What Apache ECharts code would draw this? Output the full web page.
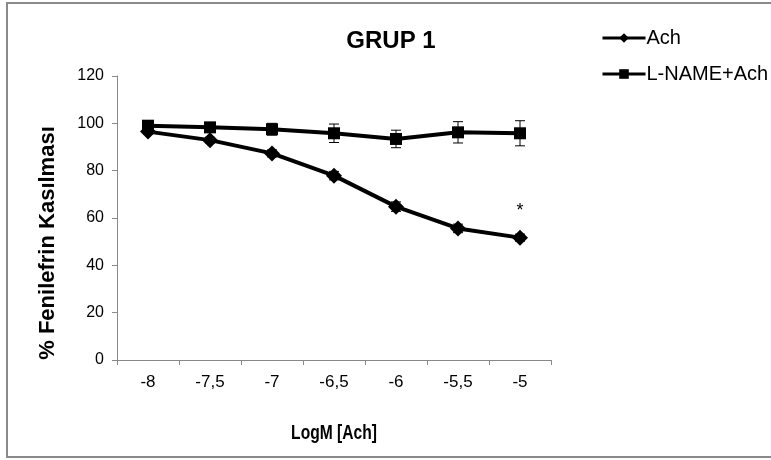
<!DOCTYPE html>
<html>
<head>
<meta charset="utf-8">
<script src="https://cdn.jsdelivr.net/npm/echarts@6/dist/echarts.min.js"></script>
<style>
  html, body { margin: 0; padding: 0; background: #fff; }
  #chart { width: 771px; height: 460px; }
</style>
</head>
<body>
<div id="chart"></div>
<script>
// Dose levels (log molar concentration of acetylcholine)
const doses = ['-8', '-7,5', '-7', '-6,5', '-6', '-5,5', '-5'];

// Ach alone: mean contraction (%) and SEM
const achMean = [96.5, 92.9, 87.3, 77.9, 64.8, 55.6, 51.7];
const achSem = [1.0, 1.2, 1.5, 1.8, 2.0, 1.8, 1.5];

// L-NAME + Ach: mean contraction (%) and SEM
const lnameMean = [99.0, 98.3, 97.5, 95.8, 93.4, 96.2, 95.8];
const lnameSem = [1.0, 1.2, 2.5, 3.9, 3.7, 4.5, 5.3];

// Significance marker placed above the last dose
const sigLevel = [null, null, null, null, null, null, 63];
const sigText = ['', '', '', '', '', '', '*'];

// Value axis range
const yMin = 0, yMax = 120, yStep = 20;

const FONT = '"Liberation Sans", Arial, sans-serif';
const AXIS_GRAY = '#898989';

function errorBars(name, mean, sem) {
  return {
    name: name + ' SEM',
    type: 'custom',
    silent: true,
    z: 3,
    data: mean.map((m, i) => [i, m - sem[i], m + sem[i]]),
    encode: { x: 0, y: [1, 2] },
    renderItem(params, api) {
      const x = api.value(0);
      const lo = api.coord([x, api.value(1)]);
      const hi = api.coord([x, api.value(2)]);
      const w = 5;
      const style = { stroke: '#000', lineWidth: 1 };
      return {
        type: 'group',
        children: [
          { type: 'line', shape: { x1: lo[0], y1: lo[1], x2: hi[0], y2: hi[1] }, style },
          { type: 'line', shape: { x1: lo[0] - w, y1: lo[1], x2: lo[0] + w, y2: lo[1] }, style },
          { type: 'line', shape: { x1: hi[0] - w, y1: hi[1], x2: hi[0] + w, y2: hi[1] }, style }
        ]
      };
    }
  };
}

// Text markers (significance asterisks) at given dose/level positions
const sigPoints = sigLevel
  .map((v, i) => (v == null ? null : [i, v]))
  .filter((p) => p !== null);

const chart = echarts.init(document.getElementById('chart'), null, { renderer: 'canvas' });

chart.setOption({
  animation: false,
  backgroundColor: '#fff',
  textStyle: { fontFamily: FONT },
  title: {
    text: 'GRUP 1',
    left: 386,
    top: 24,
    textAlign: 'center',
    textStyle: { fontFamily: FONT, fontSize: 24, fontWeight: 'bold', color: '#000' }
  },
  legend: {
    orient: 'vertical',
    left: 596,
    top: 23,
    itemWidth: 43,
    itemHeight: 12,
    itemGap: 16,
    data: ['Ach', 'L-NAME+Ach'],
    lineStyle: { width: 3 },
    textStyle: { fontFamily: FONT, fontSize: 20, color: '#000', padding: [0, 0, 0, -4] }
  },
  grid: { left: 117, right: 220, top: 76, bottom: 100, containLabel: false },
  xAxis: {
    type: 'category',
    data: doses,
    boundaryGap: true,
    axisLine: { lineStyle: { color: AXIS_GRAY, width: 1 } },
    axisTick: { show: true, length: 5, inside: false, lineStyle: { color: AXIS_GRAY } },
    axisLabel: { fontFamily: FONT, fontSize: 17, color: '#000', margin: 14 },
    splitLine: { show: false }
  },
  yAxis: {
    type: 'value',
    min: yMin,
    max: yMax,
    interval: yStep,
    axisLine: { show: true, lineStyle: { color: AXIS_GRAY, width: 1 } },
    axisTick: { show: true, length: 5, inside: false, lineStyle: { color: AXIS_GRAY } },
    axisLabel: { fontFamily: FONT, fontSize: 16, color: '#000', margin: 13 },
    splitLine: { show: false }
  },
  graphic: [
    {
      type: 'rect',
      shape: { x: 7, y: 3, width: 800, height: 454 },
      style: { fill: 'none', stroke: '#8a8a8a', lineWidth: 2 },
      silent: true,
      z: -1
    },
    {
      // value-axis title, rotated
      type: 'text',
      x: 48,
      y: 243,
      rotation: Math.PI / 2,
      style: {
        text: '% Fenilefrin Kasılması',
        font: 'bold 22px ' + FONT,
        fill: '#000',
        textAlign: 'center',
        textVerticalAlign: 'middle'
      },
      silent: true
    },
    {
      // category-axis title, set in a condensed face
      type: 'text',
      x: 334,
      y: 433,
      scaleX: 0.78,
      style: {
        text: 'LogM [Ach]',
        font: 'bold 20px ' + FONT,
        fill: '#000',
        textAlign: 'center',
        textVerticalAlign: 'middle'
      },
      silent: true
    }
  ],
  series: [
    errorBars('Ach', achMean, achSem),
    errorBars('L-NAME+Ach', lnameMean, lnameSem),
    {
      name: 'L-NAME+Ach',
      type: 'line',
      data: lnameMean,
      symbol: 'rect',
      symbolSize: 12,
      z: 4,
      lineStyle: { color: '#000', width: 4 },
      itemStyle: { color: '#000', borderWidth: 0 }
    },
    {
      name: 'Ach',
      type: 'line',
      data: achMean,
      symbol: 'diamond',
      symbolSize: 16,
      z: 5,
      lineStyle: { color: '#000', width: 4 },
      itemStyle: { color: '#000', borderWidth: 0 }
    },
    {
      name: 'sig',
      type: 'custom',
      silent: true,
      z: 6,
      data: sigPoints,
      encode: { x: 0, y: 1 },
      renderItem(params, api) {
        const i = api.value(0);
        const p = api.coord([i, api.value(1)]);
        return {
          type: 'text',
          x: p[0],
          y: p[1],
          style: {
            text: sigText[i],
            font: '18px ' + FONT,
            fill: '#000',
            textAlign: 'center',
            textVerticalAlign: 'middle'
          }
        };
      }
    }
  ]
});
</script>
</body>
</html>
